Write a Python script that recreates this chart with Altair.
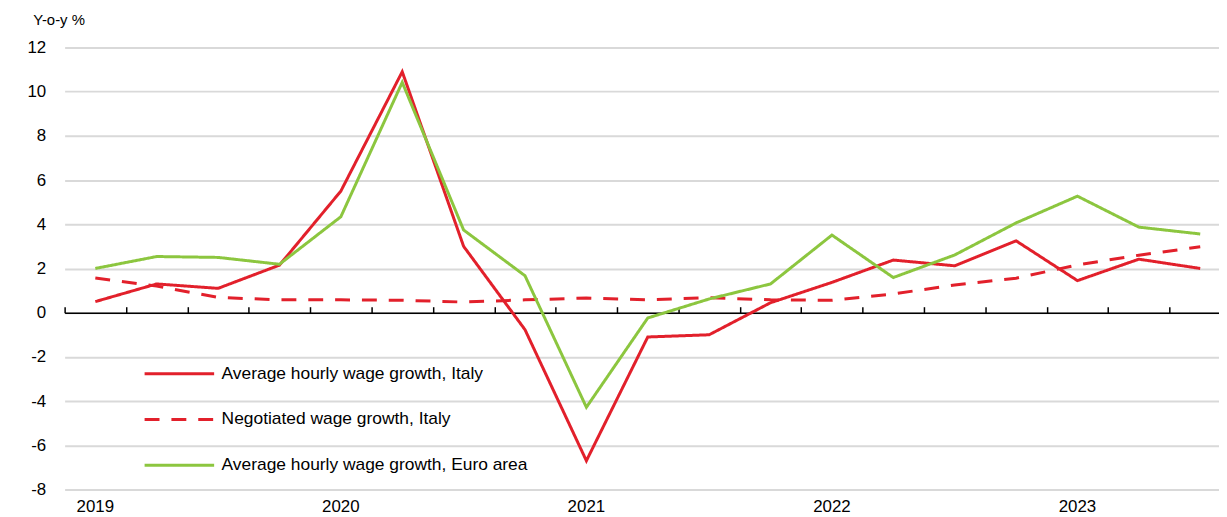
import altair as alt
import pandas as pd

quarters = [f"{y}-Q{q}" for y in range(2019, 2024) for q in range(1, 5)][:19]

avg_italy = [0.5, 1.3, 1.1, 2.15, 5.5, 10.9, 3.0, -0.77, -6.7, -1.1, -1.0, 0.45,
             1.37, 2.38, 2.12, 3.25, 1.45, 2.42, 2.0]
negotiated_italy = [1.57, 1.2, 0.69, 0.58, 0.58, 0.56, 0.48, 0.58, 0.66, 0.58, 0.68, 0.58,
                    0.56, 0.85, 1.25, 1.56, 2.16, 2.6, 2.98]
avg_euro = [2.0, 2.54, 2.5, 2.19, 4.34, 10.42, 3.74, 1.67, -4.28, -0.24, 0.62, 1.3,
            3.51, 1.59, 2.61, 4.06, 5.27, 3.87, 3.56]

series_names = [
    "Average hourly wage growth, Italy",
    "Negotiated wage growth, Italy",
    "Average hourly wage growth, Euro area",
]

rows = []
for name, vals in zip(series_names, [avg_italy, negotiated_italy, avg_euro]):
    for q, v in zip(quarters, vals):
        rows.append({"q": q, "value": v, "series": name})
df = pd.DataFrame(rows)

FONT = "Liberation Sans"
RED = "#e2202b"
GREEN = "#8cc63f"

W, H = 1162, 445

xscale = alt.Scale(type="band", domain=quarters, paddingInner=0, paddingOuter=0,
                   range=[0, 1174])
yscale = alt.Scale(domain=[-8, 12], nice=False)

lines = alt.Chart(df).mark_line(strokeWidth=3).encode(
    x=alt.X("q:O", scale=xscale, sort=quarters,
            axis=alt.Axis(orient="bottom", title=None, ticks=False, domain=False, grid=False,
                          labelExpr="slice(datum.value,5)=='Q1' ? slice(datum.value,0,4) : ''",
                          labelAngle=0, labelFont=FONT, labelFontSize=17, labelColor="#000",
                          labelPadding=9)),
    y=alt.Y("value:Q", scale=yscale,
            axis=alt.Axis(values=list(range(-8, 13, 2)), title="Y-o-y %", titleAngle=0,
                          titleX=-32, titleY=-28, titleAlign="left", titleBaseline="middle",
                          titleFont=FONT, titleFontSize=15, titleFontWeight="normal",
                          titleColor="#000", labelExpr="'' + datum.value",
                          domain=False, ticks=False, grid=True, gridColor="#d9d9d9",
                          gridWidth=2, labelFont=FONT, labelFontSize=17, labelColor="#000",
                          labelPadding=19)),
    color=alt.Color("series:N", scale=alt.Scale(domain=series_names, range=[RED, RED, GREEN]),
                    legend=alt.Legend(orient="none", legendX=79, legendY=317, title=None,
                                      symbolType="M-1,0H6", symbolSize=400,
                                      symbolStrokeWidth=3, labelOffset=56, rowPadding=26,
                                      labelFont=FONT, labelFontSize=17.5, labelColor="#000",
                                      labelLimit=400)),
    strokeDash=alt.StrokeDash("series:N",
                              scale=alt.Scale(domain=series_names, range=[[1, 0], [15, 12], [1, 0]]),
                              legend=None),
    detail="series:N",
)

zero_axis = alt.Chart(df).mark_line(opacity=0).encode(
    x=alt.X("q:O", scale=xscale, sort=quarters,
            axis=alt.Axis(orient="top", title=None, labels=False, grid=False,
                          domain=True, domainColor="#000", domainWidth=1.5,
                          ticks=True, tickColor="#000", tickWidth=1.5, tickSize=6,
                          tickBand="extent", offset=-H * 12 / 20)),
    y=alt.Y("value:Q", scale=yscale, axis=None),
    detail="series:N",
)

chart = alt.layer(lines, zero_axis).resolve_axis(x="independent", y="independent").properties(
    width=W, height=H,
    autosize=alt.AutoSizeParams(type="none"),
    padding={"left": 57, "top": 38, "right": 0, "bottom": 25},
).configure_view(stroke=None)

chart.save("out.html", embed_options={"renderer": "svg", "actions": False})
